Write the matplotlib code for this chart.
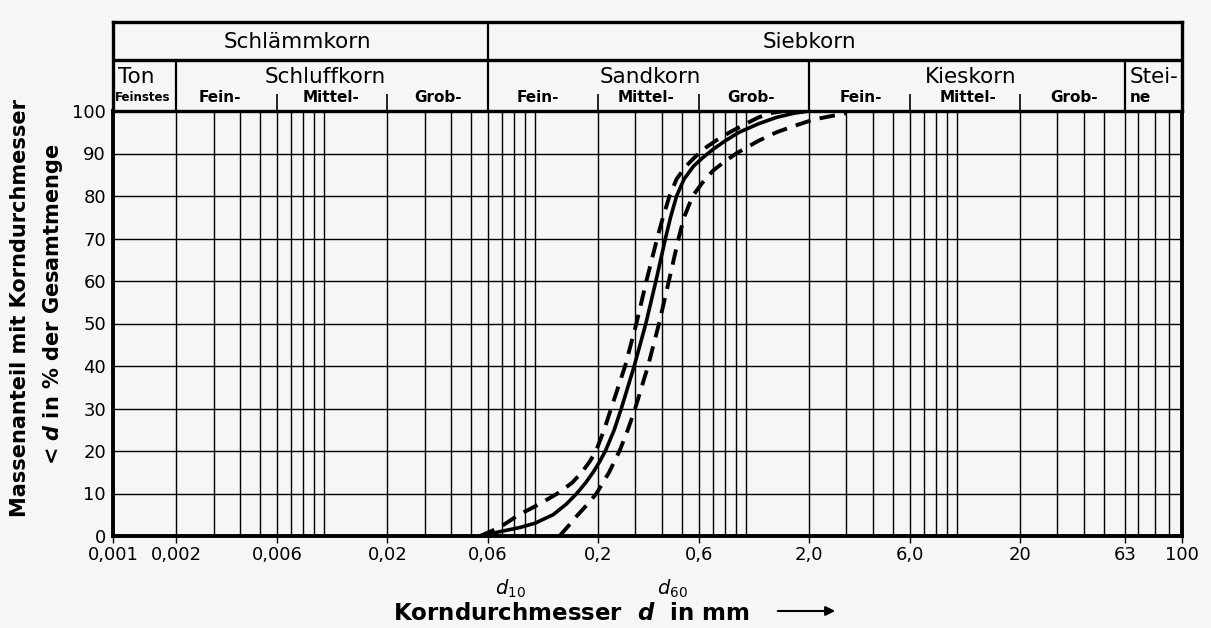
import numpy as np
import matplotlib
matplotlib.use("Agg")
import matplotlib.pyplot as plt

# grain size curves (diameter in mm, passing in %)
solid_d = [0.055, 0.068, 0.085, 0.100, 0.122, 0.141, 0.158, 0.174, 0.189, 0.203, 0.216, 0.238,
           0.257, 0.296, 0.336, 0.375, 0.416, 0.440, 0.470, 0.510, 0.565, 0.625, 0.70, 0.80,
           0.93, 1.15, 1.40, 1.70, 2.0]
solid_p = [0, 1, 2, 3, 5, 7.5, 10, 12.5, 15, 17.5, 20, 25,
           30, 40, 50, 60, 70, 75, 80, 84, 87, 89, 91, 93,
           95, 97, 98.5, 99.5, 100]

fine_d = [0.055, 0.068, 0.084, 0.105, 0.128, 0.150, 0.167, 0.182, 0.195, 0.213, 0.230, 0.268,
          0.303, 0.338, 0.380, 0.405, 0.435, 0.47, 0.52, 0.57, 0.63, 0.72, 0.84, 1.0, 1.15,
          1.31, 1.52]
fine_p = [0, 2, 5, 7.5, 10, 12.5, 15, 17.5, 20, 25, 30, 40,
          50, 60, 70, 75, 80, 84, 87, 89, 91, 93, 95, 97, 98.5,
          99.5, 100]

coarse_d = [0.131, 0.145, 0.160, 0.178, 0.196, 0.225, 0.252, 0.276, 0.299, 0.344, 0.388, 0.432,
            0.480, 0.51, 0.56, 0.62, 0.70, 0.79, 0.90, 1.15, 1.40, 1.70, 2.1, 3.0]
coarse_p = [0, 2.5, 5, 7.5, 10, 15, 20, 25, 30, 40, 50, 60,
            70, 75, 80, 83, 86, 88, 90, 93, 95, 96.5, 98, 99.5]

tick_vals = [0.001, 0.002, 0.006, 0.02, 0.06, 0.2, 0.6, 2.0, 6.0, 20, 63, 100]
tick_labels = ["0,001", "0,002", "0,006", "0,02", "0,06", "0,2", "0,6", "2,0", "6,0", "20", "63", "100"]
grid_vals = [m * 10.0 ** e for e in range(-3, 1) for m in range(1, 10)] + [10, 20, 30, 40, 50, 63, 70, 80, 90]

# header: zone boundaries
main_bounds = [0.002, 2.0, 63]
sub_bounds = [0.006, 0.02, 0.2, 0.6, 6.0, 20]

bg = "#f6f6f6"
L63 = np.log10(63)


def fwd(x):
    l = np.log10(np.clip(x, 1e-9, None))
    return l + 0.34 * np.clip(l - L63, 0, None)


def inv(f):
    f = np.asarray(f, dtype=float)
    l = np.where(f > L63, L63 + (f - L63) / 1.34, f)
    return 10.0 ** l


W, H = 1211, 628
fig = plt.figure(figsize=(W / 100, H / 100), dpi=100, facecolor=bg)
x0, x1 = 113, 1182
ax = fig.add_axes([x0 / W, (H - 536) / H, (x1 - x0) / W, (536 - 111) / H])
hax = fig.add_axes([x0 / W, (H - 111) / H, (x1 - x0) / W, (111 - 22) / H])

for a in (ax, hax):
    a.set_facecolor(bg)
    a.set_xscale("function", functions=(fwd, inv))
    a.set_xlim(0.001, 100)

# main chart
ax.set_ylim(0, 100)
ax.set_xticks(tick_vals, tick_labels)
ax.set_xticks(grid_vals, minor=True)
ax.set_yticks(range(0, 101, 10))
ax.tick_params(axis="x", which="major", length=5, width=1, pad=2, labelsize=13)
ax.tick_params(axis="x", which="minor", length=0)
ax.tick_params(axis="y", length=0, pad=5, labelsize=13)
ax.grid(True, which="both", axis="x", color="black", lw=1.0)
ax.grid(True, which="major", axis="y", color="black", lw=1.0)
ax.set_axisbelow(True)
for s in ax.spines.values():
    s.set_linewidth(2.8)

ax.plot(solid_d, solid_p, color="black", lw=2.6, zorder=3, clip_on=False)
ax.plot(fine_d, fine_p, color="black", lw=2.8, ls=(0, (4, 2.4)), dash_capstyle="butt",
        zorder=3, clip_on=False)
ax.plot(coarse_d, coarse_p, color="black", lw=2.8, ls=(0, (4, 2.4)), dash_capstyle="butt",
        zorder=3, clip_on=False)

tr = ax.get_xaxis_transform()
ax.text(0.0762, -0.125, r"$d_{10}$", transform=tr, ha="center", va="center", fontsize=14)
ax.text(0.448, -0.125, r"$d_{60}$", transform=tr, ha="center", va="center", fontsize=14)

# header
hax.set_ylim(0, 1)
hax.set_xticks([])
hax.set_xticks([], minor=True)
hax.set_yticks([])
for s in hax.spines.values():
    s.set_linewidth(2.4)
hax.axhline(0.573, color="black", lw=2.4)
hax.vlines([0.06], 0, 1, color="black", lw=1.6)
hax.vlines(main_bounds, 0, 0.573, color="black", lw=1.6)
hax.vlines(sub_bounds, 0, 0.19, color="black", lw=1.2)

big = dict(ha="center", va="center", fontsize=15.5)
sub = dict(ha="center", va="center", fontsize=11, fontweight="bold")
hax.text(0.0075, 0.775, "Schlämmkorn", **big)
hax.text(2.0, 0.775, "Siebkorn", **big)
hax.text(0.00106, 0.38, "Ton", ha="left", va="center", fontsize=15.5)
hax.text(0.00138, 0.15, "Feinstes", ha="center", va="center", fontsize=8.5, fontweight="bold")
hax.text(0.0101, 0.38, "Schluffkorn", **big)
hax.text(0.352, 0.38, "Sandkorn", **big)
hax.text(11.6, 0.38, "Kieskorn", **big)
hax.text(65.5, 0.38, "Stei-", ha="left", va="center", fontsize=15.5)
hax.text(65.5, 0.15, "ne", ha="left", va="center", fontsize=11, fontweight="bold")
for xv, lab in [(0.00322, "Fein-"), (0.0108, "Mittel-"), (0.0348, "Grob-"),
                (0.1035, "Fein-"), (0.336, "Mittel-"), (1.06, "Grob-"),
                (3.52, "Fein-"), (11.3, "Mittel-"), (36, "Grob-")]:
    hax.text(xv, 0.15, lab, **sub)

# axis titles
fig.text(20 / W, 1 - 308 / H, "Massenanteil mit Korndurchmesser", rotation=90,
         ha="center", va="center", fontsize=15, fontweight="bold")
fig.text(53 / W, 1 - 304 / H, r"< $\mathbfit{d}$ in % der Gesamtmenge", rotation=90,
         ha="center", va="center", fontsize=15, fontweight="bold")
fig.text(571 / W, 1 - 613 / H, r"Korndurchmesser  $\mathbfit{d}$  in mm",
         ha="center", va="center", fontsize=16.5, fontweight="bold")
fig.add_artist(matplotlib.patches.FancyArrowPatch(
    (775 / W, 1 - 611 / H), (838 / W, 1 - 611 / H), transform=fig.transFigure,
    arrowstyle="-|>", mutation_scale=14, color="black", lw=1.5))

fig.savefig("out.png", dpi=100, facecolor=bg)
